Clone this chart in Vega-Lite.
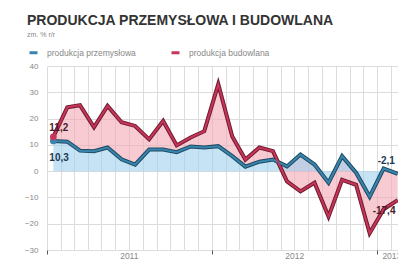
{
  "$schema": "https://vega.github.io/schema/vega-lite/v6.json",
  "autosize": "none",
  "width": 371,
  "height": 184,
  "padding": {"left": 47, "top": 66, "right": 0, "bottom": 12},
  "background": "white",
  "title": {
    "text": "PRODUKCJA PRZEMYSŁOWA I BUDOWLANA",
    "subtitle": "zm. % r/r",
    "anchor": "start",
    "frame": "group",
    "dx": -20,
    "offset": 9,
    "font": "Liberation Sans",
    "fontSize": 14,
    "fontWeight": "bold",
    "color": "#333333",
    "subtitleFont": "Liberation Sans",
    "subtitleFontSize": 7,
    "subtitleColor": "#888888",
    "subtitlePadding": 3
  },
  "config": {"view": {"stroke": null}, "font": "Liberation Sans"},
  "data": {
    "values": [
      {"date": "2011-01-15", "produkcja przemysłowa": 11.5, "produkcja budowlana": 13.0},
      {"date": "2011-02-15", "produkcja przemysłowa": 11.2, "produkcja budowlana": 24.3},
      {"date": "2011-03-15", "produkcja przemysłowa": 7.8, "produkcja budowlana": 25.1},
      {"date": "2011-04-15", "produkcja przemysłowa": 7.6, "produkcja budowlana": 16.7},
      {"date": "2011-05-15", "produkcja przemysłowa": 9.0, "produkcja budowlana": 24.8},
      {"date": "2011-06-15", "produkcja przemysłowa": 4.5, "produkcja budowlana": 18.6},
      {"date": "2011-07-15", "produkcja przemysłowa": 2.5, "produkcja budowlana": 17.2},
      {"date": "2011-08-15", "produkcja przemysłowa": 8.2, "produkcja budowlana": 12.1},
      {"date": "2011-09-15", "produkcja przemysłowa": 8.2, "produkcja budowlana": 19.1},
      {"date": "2011-10-15", "produkcja przemysłowa": 7.2, "produkcja budowlana": 9.8},
      {"date": "2011-11-15", "produkcja przemysłowa": 9.4, "produkcja budowlana": 12.8},
      {"date": "2011-12-15", "produkcja przemysłowa": 9.0, "produkcja budowlana": 15.2},
      {"date": "2012-01-15", "produkcja przemysłowa": 9.5, "produkcja budowlana": 33.1},
      {"date": "2012-02-15", "produkcja przemysłowa": 5.7, "produkcja budowlana": 13.2},
      {"date": "2012-03-15", "produkcja przemysłowa": 1.7, "produkcja budowlana": 4.4},
      {"date": "2012-04-15", "produkcja przemysłowa": 3.6, "produkcja budowlana": 9.0},
      {"date": "2012-05-15", "produkcja przemysłowa": 4.4, "produkcja budowlana": 7.6},
      {"date": "2012-06-15", "produkcja przemysłowa": 1.8, "produkcja budowlana": -3.9},
      {"date": "2012-07-15", "produkcja przemysłowa": 6.3, "produkcja budowlana": -7.7},
      {"date": "2012-08-15", "produkcja przemysłowa": 2.5, "produkcja budowlana": -4.4},
      {"date": "2012-09-15", "produkcja przemysłowa": -4.4, "produkcja budowlana": -17.3},
      {"date": "2012-10-15", "produkcja przemysłowa": 5.7, "produkcja budowlana": -3.3},
      {"date": "2012-11-15", "produkcja przemysłowa": -0.6, "produkcja budowlana": -5.2},
      {"date": "2012-12-15", "produkcja przemysłowa": -9.7, "produkcja budowlana": -23.6},
      {"date": "2013-01-15", "produkcja przemysłowa": 1.0, "produkcja budowlana": -14.5},
      {"date": "2013-02-15", "produkcja przemysłowa": -1.0, "produkcja budowlana": -11.0}
    ]
  },
  "layer": [
    {
      "mark": {"type": "area", "color": "#f4a9b5", "opacity": 0.6},
      "encoding": {
        "x": {
          "field": "date", "type": "temporal",
          "scale": {"domain": [{"year": 2011, "month": 1, "date": 1}, {"year": 2013, "month": 4, "date": 1}]},
          "axis": {
            "orient": "bottom",
            "tickCount": {"interval": "month", "step": 1},
            "grid": true, "gridColor": "#dcdcdc",
            "domain": false,
            "ticks": true, "tickSize": 4,
            "tickColor": {"condition": {"test": "month(datum.value) == 0", "value": "#555555"}, "value": "transparent"},
            "labelExpr": "month(datum.value) == 6 || (year(datum.value) == 2013 && month(datum.value) == 1) ? timeFormat(datum.value, '%Y') : ''",
            "labelOverlap": false, "labelBound": false, "labelFlush": false,
            "labelColor": "#888888", "labelFontSize": 8.5, "labelPadding": -3,
            "title": null
          }
        },
        "y": {
          "field": "produkcja budowlana", "type": "quantitative",
          "scale": {"domain": [-30, 40], "nice": false, "zero": false},
          "axis": {"values": [-30, -20, -10, 0, 10, 20, 30, 40], "tickCount": 8, "labelOverlap": false, "grid": true, "gridColor": "#dcdcdc", "domain": false, "ticks": false, "labelColor": "#888888", "labelFontSize": 8, "labelPadding": 9, "title": null}
        },
        "y2": {"field": "produkcja przemysłowa"}
      }
    },
    {
      "mark": {"type": "area", "color": "#9fd0ee", "opacity": 0.6},
      "encoding": {
        "x": {"field": "date", "type": "temporal", "axis": {"title": null}},
        "y": {"field": "produkcja przemysłowa", "type": "quantitative", "axis": {"title": null}},
        "y2": {"datum": 0}
      }
    },
    {
      "mark": {"type": "line", "color": "#6e1b30", "strokeWidth": 4},
      "encoding": {
        "x": {"field": "date", "type": "temporal", "axis": {"title": null}},
        "y": {"field": "produkcja budowlana", "type": "quantitative", "axis": {"title": null}}
      }
    },
    {
      "mark": {"type": "line", "color": "#1d4a61", "strokeWidth": 4},
      "encoding": {
        "x": {"field": "date", "type": "temporal", "axis": {"title": null}},
        "y": {"field": "produkcja przemysłowa", "type": "quantitative", "axis": {"title": null}}
      }
    },
    {
      "transform": [{"fold": ["produkcja przemysłowa", "produkcja budowlana"], "as": ["seria", "v"]}],
      "mark": {"type": "line", "strokeWidth": 2},
      "encoding": {
        "x": {"field": "date", "type": "temporal", "axis": {"title": null}},
        "y": {"field": "v", "type": "quantitative", "axis": {"title": null}},
        "color": {
          "field": "seria", "type": "nominal",
          "scale": {"domain": ["produkcja przemysłowa", "produkcja budowlana"], "range": ["#3a85ad", "#c73558"]},
          "legend": {"orient": "none", "legendX": -19, "legendY": -19, "direction": "horizontal", "title": null, "symbolType": "stroke", "symbolStrokeWidth": 3, "symbolSize": 64, "labelFontSize": 8.5, "labelColor": "#888888", "labelOffset": 8, "columnPadding": 29}
        }
      }
    },
    {
      "transform": [
        {"fold": ["produkcja przemysłowa", "produkcja budowlana"], "as": ["seria", "v"]},
        {"filter": {"field": "date", "timeUnit": "yearmonth", "equal": {"year": 2011, "month": 1}}}
      ],
      "mark": {"type": "circle", "size": 45, "opacity": 1},
      "encoding": {
        "x": {"field": "date", "type": "temporal", "axis": {"title": null}},
        "y": {"field": "v", "type": "quantitative", "axis": {"title": null}},
        "color": {"field": "seria", "type": "nominal", "legend": null}
      }
    },
    {
      "data": {"values": [{"date": "2011-01-15", "v": 13.0, "t": "11,2"}]},
      "mark": {"type": "text", "align": "left", "baseline": "middle", "dx": -4, "dy": -9, "fontSize": 10, "fontWeight": "bold", "color": "#4a1a28"},
      "encoding": {
        "x": {"field": "date", "type": "temporal", "axis": {"title": null}},
        "y": {"field": "v", "type": "quantitative", "axis": {"title": null}},
        "text": {"field": "t"}
      }
    },
    {
      "data": {"values": [{"date": "2011-01-15", "v": 11.5, "t": "10,3"}]},
      "mark": {"type": "text", "align": "left", "baseline": "middle", "dx": -4, "dy": 17, "fontSize": 10, "fontWeight": "bold", "color": "#1e3a52"},
      "encoding": {
        "x": {"field": "date", "type": "temporal", "axis": {"title": null}},
        "y": {"field": "v", "type": "quantitative", "axis": {"title": null}},
        "text": {"field": "t"}
      }
    },
    {
      "data": {"values": [{"date": "2013-02-15", "v": -1.0, "t": "-2,1"}]},
      "mark": {"type": "text", "align": "left", "baseline": "middle", "dx": -20, "dy": -13, "fontSize": 10, "fontWeight": "bold", "color": "#1e3a52"},
      "encoding": {
        "x": {"field": "date", "type": "temporal", "axis": {"title": null}},
        "y": {"field": "v", "type": "quantitative", "axis": {"title": null}},
        "text": {"field": "t"}
      }
    },
    {
      "data": {"values": [{"date": "2013-02-15", "v": -11.0, "t": "-17,4"}]},
      "mark": {"type": "text", "align": "left", "baseline": "middle", "dx": -25, "dy": 11, "fontSize": 10, "fontWeight": "bold", "color": "#4a1a28"},
      "encoding": {
        "x": {"field": "date", "type": "temporal", "axis": {"title": null}},
        "y": {"field": "v", "type": "quantitative", "axis": {"title": null}},
        "text": {"field": "t"}
      }
    }
  ]
}
